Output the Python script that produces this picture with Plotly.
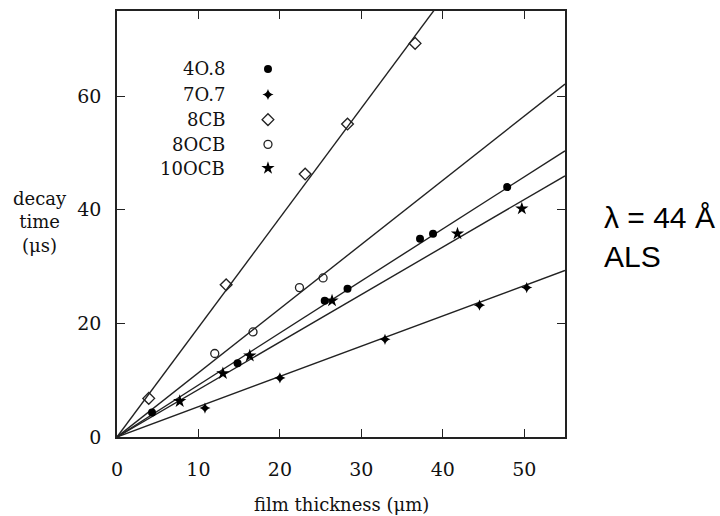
import plotly.graph_objects as go

# ---- data ----
series_names = ["4O.8", "7O.7", "8CB", "8OCB", "10OCB"]

x_4o8 = [4.3, 14.8, 25.5, 28.3, 37.2, 38.8, 47.9]
y_4o8 = [4.3, 13.0, 24.0, 26.1, 34.9, 35.8, 44.0]

x_7o7 = [10.8, 20.0, 32.9, 44.5, 50.3]
y_7o7 = [5.1, 10.4, 17.2, 23.2, 26.3]

x_8cb = [3.9, 13.4, 23.1, 28.3, 36.6]
y_8cb = [6.8, 26.8, 46.3, 55.1, 69.3]

x_8ocb = [12.0, 16.7, 22.4, 25.3]
y_8ocb = [14.7, 18.5, 26.3, 28.0]

x_10ocb = [7.7, 13.0, 16.3, 26.4, 41.8, 49.7]
y_10ocb = [6.3, 11.2, 14.3, 24.0, 35.8, 40.2]

# fitted slopes of the straight lines through the origin
fit_slopes = [1.93, 1.13, 0.916, 0.836, 0.533]
fit_x = [0, 55]

x_ticks = [0, 10, 20, 30, 40, 50]
y_ticks = [0, 20, 40, 60]

SERIF = "DejaVu Serif"
fs = 18
INK = "#111"

fig = go.Figure()

for s in fit_slopes:
    fig.add_trace(go.Scatter(x=fit_x, y=[s * v for v in fit_x], mode="lines",
                             line=dict(color="#222", width=1.4),
                             showlegend=False, hoverinfo="skip"))

styles = {
    "4O.8": dict(symbol="circle", size=8, color="black"),
    "7O.7": dict(symbol="star-diamond", size=8, color="black"),
    "8CB": dict(symbol="diamond-open", size=9, color="#222", line=dict(width=1.4, color="#222")),
    "8OCB": dict(symbol="circle-open", size=8, color="#222", line=dict(width=1.3, color="#222")),
    "10OCB": dict(symbol="star", size=10, color="black"),
}
data = {
    "4O.8": (x_4o8, y_4o8),
    "7O.7": (x_7o7, y_7o7),
    "8CB": (x_8cb, y_8cb),
    "8OCB": (x_8ocb, y_8ocb),
    "10OCB": (x_10ocb, y_10ocb),
}
for name in series_names:
    xs, ys = data[name]
    fig.add_trace(go.Scatter(x=xs, y=ys, mode="markers", marker=styles[name],
                             name=name, showlegend=False, cliponaxis=False))

# legend keys on an invisible overlay axis (0..1 of plot area)
leg_y = [0.864, 0.804, 0.745, 0.687, 0.631]
leg_sym_x = 0.337
leg_txt_x = 0.245
for name, ly in zip(series_names, leg_y):
    fig.add_trace(go.Scatter(x=[leg_sym_x], y=[ly], mode="markers",
                             marker=styles[name], xaxis="x2", yaxis="y2",
                             showlegend=False, hoverinfo="skip"))
    fig.add_annotation(x=leg_txt_x, y=ly, xref="x2", yref="y2", text=name,
                       showarrow=False, xanchor="right", yanchor="middle",
                       font=dict(family=SERIF, size=fs, color=INK))

axis_common = dict(showline=True, linecolor="#222", linewidth=1.6, mirror="ticks",
                   ticks="inside", ticklen=8, tickwidth=1.4, tickcolor="#222",
                   showgrid=False, zeroline=False,
                   tickfont=dict(family=SERIF, size=19, color=INK))

fig.update_layout(
    width=720, height=516,
    margin=dict(l=117, r=155, t=9, b=79),
    paper_bgcolor="white", plot_bgcolor="white",
    xaxis=dict(range=[0, 55], tickvals=x_ticks, ticklabelstandoff=14, **axis_common),
    yaxis=dict(range=[0, 75], tickvals=y_ticks, ticklabelstandoff=10, **axis_common),
    xaxis2=dict(range=[0, 1], overlaying="x", visible=False),
    yaxis2=dict(range=[0, 1], overlaying="y", visible=False),
    showlegend=False,
)

fig.add_annotation(x=0.5, y=-0.128, xref="paper", yref="paper", yanchor="top",
                   text="film thickness (μm)", showarrow=False,
                   font=dict(family=SERIF, size=fs, color=INK))
fig.add_annotation(x=-0.172, y=0.505, xref="paper", yref="paper",
                   xanchor="center", yanchor="middle",
                   text="decay<br>time<br>(μs)", showarrow=False, align="center",
                   font=dict(family=SERIF, size=fs, color=INK))
fig.add_annotation(x=1.083, y=0.47, xref="paper", yref="paper", xanchor="left",
                   yanchor="middle",
                   text="λ = 44 Å<br>ALS", showarrow=False, align="left",
                   font=dict(family="Liberation Sans", size=30, color="black"))

fig.write_html("out.html")
